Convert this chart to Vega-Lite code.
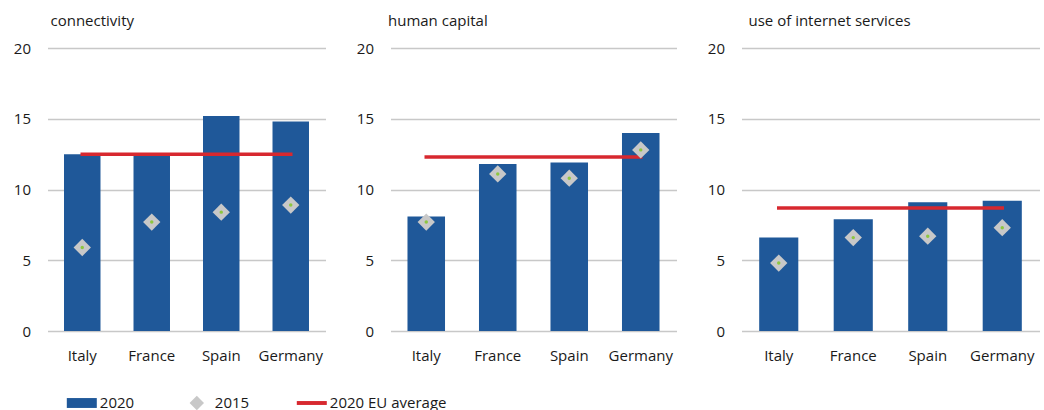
{
  "$schema": "https://vega.github.io/schema/vega-lite/v6.json",
  "background": "white",
  "padding": {"left": 12.5, "top": 14, "right": 5, "bottom": 0},
  "spacing": 30,
  "config": {
    "font": "Open Sans",
    "view": {"stroke": null},
    "axis": {"labelFont": "Open Sans", "labelFontSize": 15, "labelColor": "#1a1a1a", "ticks": false, "tickSize": 0, "domain": false, "title": null},
    "axisY": {"grid": true, "gridColor": "#c8c8c8", "gridWidth": 1.5, "labelPadding": 17},
    "axisX": {"grid": false, "labelAngle": 0, "labelPadding": 17},
    "title": {"anchor": "start", "frame": "group", "fontSize": 15, "fontWeight": "normal", "color": "#1a1a1a", "font": "Open Sans", "baseline": "alphabetic", "offset": 12},
    "legend": {"labelFont": "Open Sans", "labelFontSize": 15, "labelColor": "#1a1a1a", "padding": 0}
  },
  "resolve": {"scale": {"color": "shared"}, "legend": {"color": "shared"}},
  "hconcat": [
    {
      "width": 278, "height": 283,
      "title": {"text": "connectivity", "dx": 3},
      "data": {"values": [
        {"country": "Italy", "v2020": 12.5, "v2015": 5.9, "eu": 12.5},
        {"country": "France", "v2020": 12.5, "v2015": 7.7, "eu": 12.5},
        {"country": "Spain", "v2020": 15.2, "v2015": 8.4, "eu": 12.5},
        {"country": "Germany", "v2020": 14.8, "v2015": 8.9, "eu": 12.5}
      ]},
      "encoding": {"x": {"field": "country", "type": "nominal", "sort": ["Italy", "France", "Spain", "Germany"], "scale": {"paddingInner": 0.475, "paddingOuter": 0.2375}}},
      "layer": [
        {"mark": {"type": "bar", "color": "#1f5899"}, "encoding": {
          "y": {"field": "v2020", "type": "quantitative", "scale": {"domain": [0, 20], "nice": false}, "axis": {"values": [0, 5, 10, 15, 20]}},
          "color": {"datum": "2020", "type": "nominal", "scale": {"domain": ["2020", "2015", "2020 EU average"], "range": ["#1f5899", "#c8c8c8", "#d7282f"]},
            "legend": {"title": null, "orient": "none", "legendX": 19.3, "legendY": 340, "direction": "horizontal", "symbolSize": 900, "labelOffset": 3, "columnPadding": 47, "symbolStrokeWidth": 0, "symbolOpacity": 1,
              "encode": {"symbols": {"update": {"shape": {"signal": "datum.value === '2015' ? 'M0,-0.48L0.48,0L0,0.48L-0.48,0Z' : datum.value === '2020' ? 'M-1,-0.33H1V0.33H-1Z' : 'M-1,-0.13H1V0.13H-1Z'"}, "strokeWidth": {"value": 0}}}}}}
        }},
        {"mark": {"type": "line", "color": "#d7282f", "strokeWidth": 3.5, "strokeCap": "square"}, "encoding": {"y": {"field": "eu", "type": "quantitative"}}},
        {"mark": {"type": "point", "shape": "diamond", "filled": true, "color": "#c8c8c8", "size": 300, "opacity": 1}, "encoding": {"y": {"field": "v2015", "type": "quantitative"}}},
        {"mark": {"type": "point", "shape": "circle", "filled": true, "color": "#8dc63f", "size": 12, "opacity": 1}, "encoding": {"y": {"field": "v2015", "type": "quantitative"}}}
      ]
    },
    {
      "width": 286, "height": 283,
      "title": {"text": "human capital", "dx": -2.5},
      "data": {"values": [
        {"country": "Italy", "v2020": 8.1, "v2015": 7.7, "eu": 12.3},
        {"country": "France", "v2020": 11.8, "v2015": 11.1, "eu": 12.3},
        {"country": "Spain", "v2020": 11.9, "v2015": 10.8, "eu": 12.3},
        {"country": "Germany", "v2020": 14.0, "v2015": 12.8, "eu": 12.3}
      ]},
      "encoding": {"x": {"field": "country", "type": "nominal", "sort": ["Italy", "France", "Spain", "Germany"], "scale": {"paddingInner": 0.475, "paddingOuter": 0.2375}}},
      "layer": [
        {"mark": {"type": "bar", "color": "#1f5899"}, "encoding": {
          "y": {"field": "v2020", "type": "quantitative", "scale": {"domain": [0, 20], "nice": false}, "axis": {"values": [0, 5, 10, 15, 20]}},
          "color": {"datum": "2020", "type": "nominal", "scale": {"domain": ["2020", "2015", "2020 EU average"], "range": ["#1f5899", "#c8c8c8", "#d7282f"]},
            "legend": {"title": null, "orient": "none", "legendX": 19.3, "legendY": 340, "direction": "horizontal", "symbolSize": 900, "labelOffset": 3, "columnPadding": 47, "symbolStrokeWidth": 0, "symbolOpacity": 1,
              "encode": {"symbols": {"update": {"shape": {"signal": "datum.value === '2015' ? 'M0,-0.48L0.48,0L0,0.48L-0.48,0Z' : datum.value === '2020' ? 'M-1,-0.33H1V0.33H-1Z' : 'M-1,-0.13H1V0.13H-1Z'"}, "strokeWidth": {"value": 0}}}}}}
        }},
        {"mark": {"type": "line", "color": "#d7282f", "strokeWidth": 3.5, "strokeCap": "square"}, "encoding": {"y": {"field": "eu", "type": "quantitative"}}},
        {"mark": {"type": "point", "shape": "diamond", "filled": true, "color": "#c8c8c8", "size": 300, "opacity": 1}, "encoding": {"y": {"field": "v2015", "type": "quantitative"}}},
        {"mark": {"type": "point", "shape": "circle", "filled": true, "color": "#8dc63f", "size": 12, "opacity": 1}, "encoding": {"y": {"field": "v2015", "type": "quantitative"}}}
      ]
    },
    {
      "width": 298, "height": 283,
      "title": {"text": "use of internet services", "dx": 7},
      "data": {"values": [
        {"country": "Italy", "v2020": 6.6, "v2015": 4.8, "eu": 8.7},
        {"country": "France", "v2020": 7.9, "v2015": 6.6, "eu": 8.7},
        {"country": "Spain", "v2020": 9.1, "v2015": 6.7, "eu": 8.7},
        {"country": "Germany", "v2020": 9.2, "v2015": 7.3, "eu": 8.7}
      ]},
      "encoding": {"x": {"field": "country", "type": "nominal", "sort": ["Italy", "France", "Spain", "Germany"], "scale": {"paddingInner": 0.475, "paddingOuter": 0.2375}}},
      "layer": [
        {"mark": {"type": "bar", "color": "#1f5899"}, "encoding": {
          "y": {"field": "v2020", "type": "quantitative", "scale": {"domain": [0, 20], "nice": false}, "axis": {"values": [0, 5, 10, 15, 20]}},
          "color": {"datum": "2020", "type": "nominal", "scale": {"domain": ["2020", "2015", "2020 EU average"], "range": ["#1f5899", "#c8c8c8", "#d7282f"]},
            "legend": {"title": null, "orient": "none", "legendX": 19.3, "legendY": 340, "direction": "horizontal", "symbolSize": 900, "labelOffset": 3, "columnPadding": 47, "symbolStrokeWidth": 0, "symbolOpacity": 1,
              "encode": {"symbols": {"update": {"shape": {"signal": "datum.value === '2015' ? 'M0,-0.48L0.48,0L0,0.48L-0.48,0Z' : datum.value === '2020' ? 'M-1,-0.33H1V0.33H-1Z' : 'M-1,-0.13H1V0.13H-1Z'"}, "strokeWidth": {"value": 0}}}}}}
        }},
        {"mark": {"type": "line", "color": "#d7282f", "strokeWidth": 3.5, "strokeCap": "square"}, "encoding": {"y": {"field": "eu", "type": "quantitative"}}},
        {"mark": {"type": "point", "shape": "diamond", "filled": true, "color": "#c8c8c8", "size": 300, "opacity": 1}, "encoding": {"y": {"field": "v2015", "type": "quantitative"}}},
        {"mark": {"type": "point", "shape": "circle", "filled": true, "color": "#8dc63f", "size": 12, "opacity": 1}, "encoding": {"y": {"field": "v2015", "type": "quantitative"}}}
      ]
    }
  ]
}
